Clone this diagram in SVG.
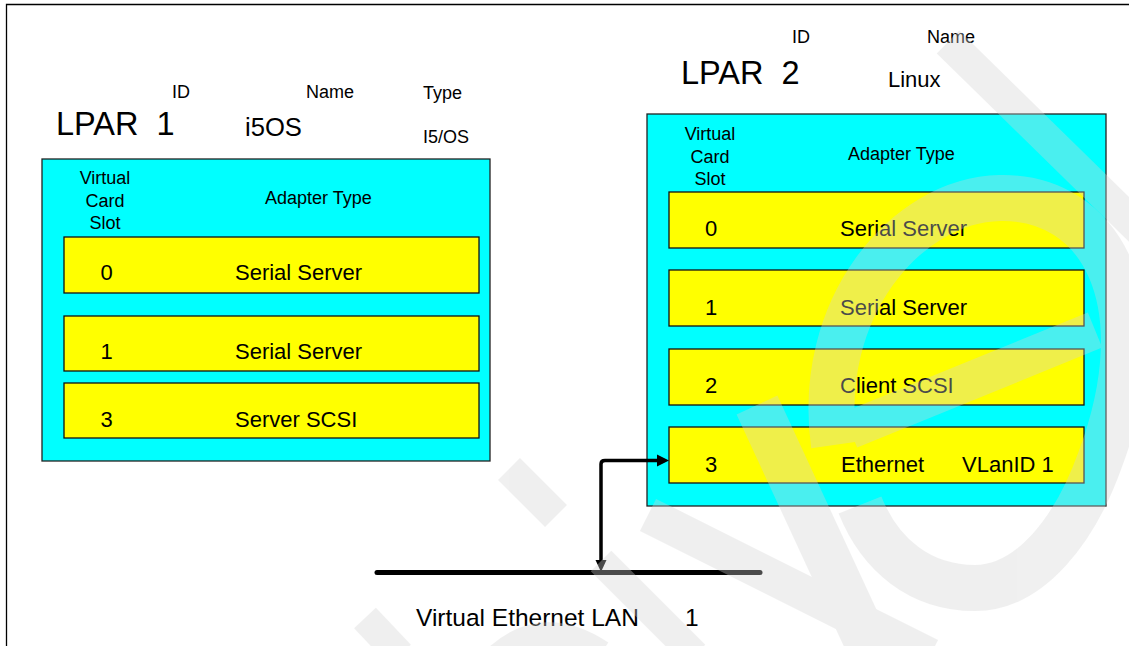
<svg xmlns="http://www.w3.org/2000/svg" width="1129" height="646" viewBox="0 0 1129 646">
  <defs>
    <style>
      text { font-family: "Liberation Sans", Arial, sans-serif; fill: #000; }
      .hdr { font-size: 18px; }
      .big { font-size: 32.5px; }
      .row { font-size: 22px; }
      .mid { text-anchor: middle; }
      .box { fill: #00ffff; stroke: #222; stroke-width: 1.3; }
      .bar { fill: #ffff00; stroke: #111; stroke-width: 1.3; }
      .wm { fill: none; stroke: #d4d4d4; stroke-linecap: butt; stroke-linejoin: round; }
    </style>
    <marker id="ah" viewBox="0 0 12 12" refX="12" refY="6" markerWidth="12" markerHeight="12" markerUnits="userSpaceOnUse" orient="auto">
      <path d="M0,0 L12,6 L0,12 Z" fill="#000"/>
    </marker>
  </defs>

  <rect width="1129" height="646" fill="#fff"/>
  <!-- frame -->
  <path d="M6.5,646 L6.5,4.5 L1129,4.5" fill="none" stroke="#000" stroke-width="1.3"/>

  <g id="lpar1">
    <text class="big" x="56" y="135" xml:space="preserve">LPAR  1</text>
    <text class="hdr" x="172" y="98">ID</text>
    <text class="hdr" x="306" y="98">Name</text>
    <text class="hdr" x="423" y="99">Type</text>
    <text x="245" y="136" style="font-size:25.6px">i5OS</text>
    <text class="hdr" x="423" y="143">I5/OS</text>
    <rect class="box" x="42" y="159" width="448" height="302"/>
    <text class="hdr mid" x="105" y="184">Virtual</text>
    <text class="hdr mid" x="105" y="206.5">Card</text>
    <text class="hdr mid" x="105" y="229">Slot</text>
    <text class="hdr" x="265" y="204">Adapter Type</text>
    <g id="lpar1-slot0">
      <rect class="bar" x="64" y="237" width="415" height="56"/>
      <text class="row mid" x="106.5" y="280">0</text>
      <text class="row" x="235" y="280">Serial Server</text>
    </g>
    <g id="lpar1-slot1">
      <rect class="bar" x="64" y="316" width="415" height="55"/>
      <text class="row mid" x="106.5" y="359">1</text>
      <text class="row" x="235" y="359">Serial Server</text>
    </g>
    <g id="lpar1-slot3">
      <rect class="bar" x="64" y="383" width="415" height="55"/>
      <text class="row mid" x="106.5" y="427">3</text>
      <text class="row" x="235" y="427">Server SCSI</text>
    </g>
  </g>

  <g id="lpar2">
    <text class="big" x="681" y="84" xml:space="preserve">LPAR  2</text>
    <text class="hdr" x="792" y="43">ID</text>
    <text class="hdr" x="927" y="43">Name</text>
    <text x="888" y="87" style="font-size:22px">Linux</text>
    <rect class="box" x="647" y="114" width="459" height="392"/>
    <text class="hdr mid" x="710" y="140">Virtual</text>
    <text class="hdr mid" x="710" y="162.5">Card</text>
    <text class="hdr mid" x="710" y="185">Slot</text>
    <text class="hdr" x="848" y="160">Adapter Type</text>
    <g id="lpar2-slot0">
      <rect class="bar" x="669" y="192" width="415" height="56"/>
      <text class="row mid" x="711" y="236">0</text>
      <text class="row" x="840" y="236">Serial Server</text>
    </g>
    <g id="lpar2-slot1">
      <rect class="bar" x="669" y="270" width="415" height="56"/>
      <text class="row mid" x="711" y="315">1</text>
      <text class="row" x="840" y="315">Serial Server</text>
    </g>
    <g id="lpar2-slot2">
      <rect class="bar" x="669" y="349" width="415" height="56"/>
      <text class="row mid" x="711" y="393">2</text>
      <text class="row" x="840" y="393">Client SCSI</text>
    </g>
    <g id="lpar2-slot3">
      <rect class="bar" x="669" y="427" width="415" height="56"/>
      <text class="row mid" x="711" y="472">3</text>
      <text class="row" x="841" y="472">Ethernet</text>
      <text class="row" x="962" y="472">VLanID 1</text>
    </g>
  </g>

  <g id="lan">
    <line x1="377" y1="572.5" x2="760" y2="572.5" stroke="#000" stroke-width="5" stroke-linecap="round"/>
    <text x="416" y="626" style="font-size:24.5px">Virtual Ethernet LAN</text>
    <text x="685" y="626" style="font-size:24.5px">1</text>
  </g>

  <g id="connectors">
    <path d="M601,561 L601,464 Q601,460.5 605,460.5 L657,460.5" fill="none" stroke="#000" stroke-width="3.5"/>
    <path d="M657,454.5 L669,460.5 L657,466.5 Z" fill="#000"/>
    <path d="M595.5,560 L606.5,560 L601,572 Z" fill="#000"/>
  </g>

  <!-- faint watermark overlay -->
  <g id="watermark" opacity="0.35">
    <path class="wm" d="M948,42 L1150,240" stroke-width="32"/>
    <path class="wm" d="M834,445 C815,310 905,200 1000,198 C1100,196 1160,300 1100,460 C1075,530 1030,588 975,588 C920,588 880,555 860,505" stroke-width="46"/>
    <path class="wm" d="M850,430 L1095,330" stroke-width="38"/>
    <path class="wm" d="M757,405 L875,660" stroke-width="45"/>
    <path class="wm" d="M648,515 L930,656" stroke-width="36"/>
    <path class="wm" d="M601,561 L695,655" stroke-width="29"/>
    <path class="wm" d="M509,469 L556,516" stroke-width="31"/>
    <path class="wm" d="M365,618 L400,655" stroke-width="30"/>
    <path class="wm" d="M492,665 Q540,615 600,655" stroke-width="30"/>
  </g>
</svg>
